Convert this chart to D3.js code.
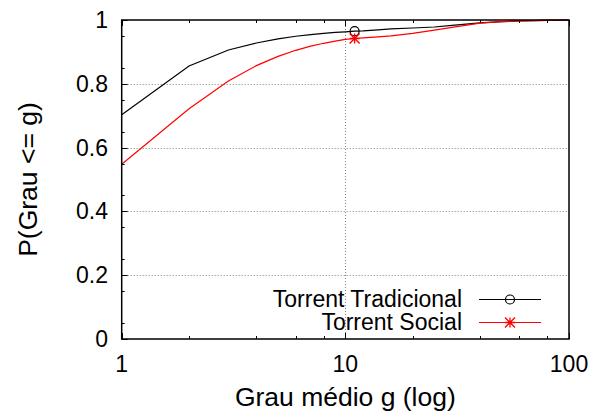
<!DOCTYPE html>
<html>
<head>
  <meta charset="utf-8">
  <style>
    body { margin: 0; background: #fff; }
    text { font-family: "Liberation Sans", Arial, sans-serif; fill: #000; }
  </style>
  <script src="https://cdn.jsdelivr.net/npm/d3@7"></script>
</head>
<body>
<div id="chart"></div>
<script>
  // degree values (log axis) and cumulative probabilities
  var degrees = [1, 2, 3, 4, 5, 6, 7, 8, 9, 10, 11, 12, 14, 16, 20, 25, 30, 40, 50, 60, 80, 100];
  var tradicional = [0.703, 0.856, 0.906, 0.928, 0.941, 0.949, 0.954, 0.958, 0.961, 0.963, 0.965, 0.966,
                     0.969, 0.972, 0.975, 0.978, 0.983, 0.991, 0.995, 0.997, 0.999, 1.0];
  var social = [0.548, 0.722, 0.809, 0.857, 0.886, 0.905, 0.918, 0.927, 0.934, 0.939, 0.942, 0.944,
                0.947, 0.950, 0.958, 0.968, 0.977, 0.990, 0.995, 0.997, 0.999, 1.0];
  var markerDegree = 11;
  var xTicks = [1, 10, 100];
  var xMinor = [2, 4, 6, 8, 20, 40, 60, 80];
  var yTicks = [0, 0.2, 0.4, 0.6, 0.8, 1];
  var yMinor = d3.range(0.05, 1, 0.1);
  var seriesNames = ["Torrent Tradicional", "Torrent Social"];

  var W = 593, H = 412;
  var pLeft = 121.7, pRight = 569, pTop = 20, pBottom = 339;

  var svg = d3.select("#chart").append("svg").attr("width", W).attr("height", H);

  var x = d3.scaleLog().domain([1, 100]).range([pLeft, pRight]);
  var y = d3.scaleLinear().domain([0, 1]).range([pBottom, pTop]);

  // grid (dotted)
  var grid = svg.append("g").attr("stroke", "#808080").attr("stroke-width", 1).attr("stroke-dasharray", "1,2");
  grid.selectAll("line.h").data([0.2, 0.4, 0.6, 0.8]).enter().append("line")
    .attr("x1", pLeft).attr("x2", pRight)
    .attr("y1", function (d) { return Math.round(y(d)) + 0.5; })
    .attr("y2", function (d) { return Math.round(y(d)) + 0.5; });
  grid.append("line")
    .attr("x1", Math.round(x(10)) + 0.5).attr("x2", Math.round(x(10)) + 0.5)
    .attr("y1", pTop).attr("y2", pBottom);

  // ticks (inward, x mirrored on top)
  var ticks = svg.append("g").attr("stroke", "#000").attr("stroke-width", 1);
  xTicks.concat(xMinor).forEach(function (d) {
    var len = xTicks.indexOf(d) >= 0 ? 6 : 3;
    var px = Math.round(x(d)) + 0.5;
    ticks.append("line").attr("x1", px).attr("x2", px).attr("y1", pBottom).attr("y2", pBottom - len);
    ticks.append("line").attr("x1", px).attr("x2", px).attr("y1", pTop).attr("y2", pTop + len);
  });
  yTicks.concat(yMinor).forEach(function (d) {
    var len = yTicks.indexOf(d) >= 0 ? 6 : 3;
    var py = Math.round(y(d)) + 0.5;
    ticks.append("line").attr("x1", pLeft).attr("x2", pLeft + len).attr("y1", py).attr("y2", py);
  });

  // lines
  var line = d3.line()
    .x(function (d) { return x(d[0]); })
    .y(function (d) { return y(d[1]); });
  var colors = ["#000000", "#ff0000"];
  [tradicional, social].forEach(function (vals, i) {
    svg.append("path")
      .datum(degrees.map(function (g, j) { return [g, vals[j]]; }))
      .attr("fill", "none")
      .attr("stroke", colors[i])
      .attr("stroke-width", 1.2)
      .attr("d", line);
  });

  function circleMark(g, cx, cy) {
    g.append("circle").attr("cx", cx).attr("cy", cy).attr("r", 4.5)
      .attr("fill", "none").attr("stroke", "#000").attr("stroke-width", 1.2);
  }
  function starMark(g, cx, cy) {
    var s = 5;
    var p = "M" + (cx - s) + "," + cy + "H" + (cx + s) +
            "M" + cx + "," + (cy - s) + "V" + (cy + s) +
            "M" + (cx - s) + "," + (cy - s) + "L" + (cx + s) + "," + (cy + s) +
            "M" + (cx - s) + "," + (cy + s) + "L" + (cx + s) + "," + (cy - s);
    g.append("path").attr("d", p).attr("stroke", "#ff0000").attr("stroke-width", 1.3).attr("fill", "none");
  }

  var mi = degrees.indexOf(markerDegree);
  circleMark(svg, x(markerDegree), y(tradicional[mi]));
  starMark(svg, x(markerDegree), y(social[mi]));

  // frame
  svg.append("rect").attr("x", pLeft).attr("y", pTop)
    .attr("width", pRight - pLeft).attr("height", pBottom - pTop)
    .attr("fill", "none").attr("stroke", "#000").attr("stroke-width", 1.5);

  // tick labels
  svg.selectAll("text.yl").data(yTicks).enter().append("text")
    .attr("x", 108).attr("y", function (d) { return y(d) + 8; })
    .attr("text-anchor", "end").attr("font-size", 23)
    .text(function (d) { return d; });
  svg.selectAll("text.xl").data(xTicks).enter().append("text")
    .attr("x", function (d) { return x(d); }).attr("y", 372)
    .attr("text-anchor", "middle").attr("font-size", 23)
    .text(function (d) { return d; });

  // axis titles
  svg.append("text").attr("x", (pLeft + pRight) / 2).attr("y", 406)
    .attr("text-anchor", "middle").attr("font-size", 26.5)
    .text("Grau médio g (log)");
  svg.append("text").attr("transform", "translate(37," + ((pTop + pBottom) / 2) + ") rotate(-90)")
    .attr("text-anchor", "middle").attr("font-size", 26.5)
    .text("P(Grau <= g)");

  // legend
  var leg = svg.append("g");
  seriesNames.forEach(function (name, i) {
    var ly = 299.5 + i * 23;
    leg.append("text").attr("x", 462).attr("y", ly + 7.5)
      .attr("text-anchor", "end").attr("font-size", 23).text(name);
    leg.append("line").attr("x1", 479).attr("x2", 541).attr("y1", ly).attr("y2", ly)
      .attr("stroke", colors[i]).attr("stroke-width", 1.2);
    if (i === 0) circleMark(leg, 510, ly); else starMark(leg, 510, ly);
  });
</script>
</body>
</html>
